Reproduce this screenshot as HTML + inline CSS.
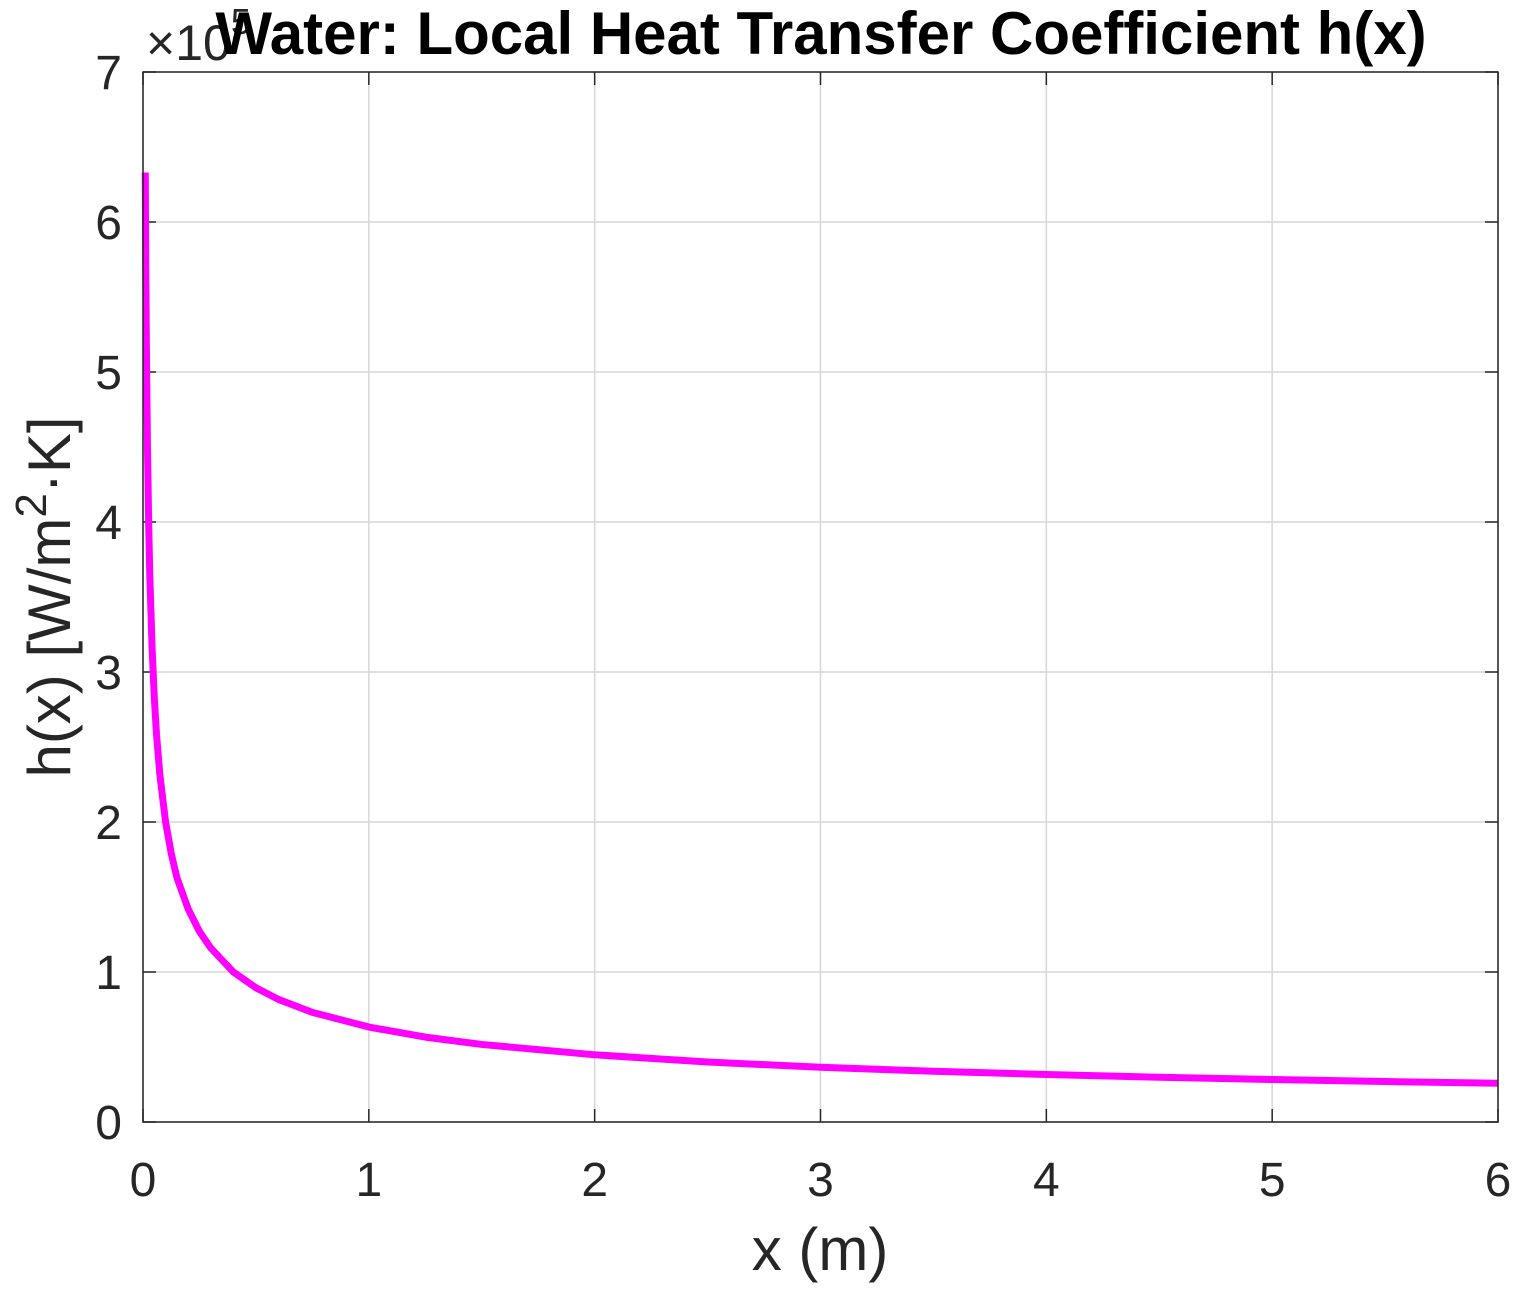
<!DOCTYPE html>
<html><head><meta charset="utf-8"><style>
body{margin:0;background:#fff;}
svg text{font-family:"Liberation Sans",Arial,sans-serif;fill:#262626;}
</style></head><body>
<svg id="chart" width="1514" height="1288" xmlns="http://www.w3.org/2000/svg">
<rect width="1514" height="1288" fill="#fff"/>
<g id="grid"></g>
<g id="ticks"></g>
<polyline id="curve" fill="none" stroke="#ff00ff" stroke-width="7" stroke-linejoin="round"/>
<rect x="143" y="72" width="1355" height="1050" fill="none" stroke="#262626" stroke-width="1.5"/>
<text x="146" y="60" font-size="50">×10<tspan dy="-26" font-size="36">5</tspan></text>
<text x="821" y="54" font-size="60" font-weight="bold" text-anchor="middle" style="fill:#000">Water: Local Heat Transfer Coefficient h(x)</text>
<text x="820" y="1270" font-size="60" text-anchor="middle">x (m)</text>
<text transform="translate(70,597) rotate(-90)" font-size="60" text-anchor="middle">h(x) [W/m<tspan dy="-24" font-size="44">2</tspan><tspan dy="24">·K]</tspan></text>
</svg>
<script>
const xVals=[0.01,0.012,0.015,0.02,0.025,0.03,0.04,0.05,0.06,0.075,0.1,0.125,0.15,0.2,0.25,0.3,0.4,0.5,0.6,0.75,1,1.25,1.5,2,2.5,3,3.5,4,4.5,5,5.5,6];
const hVals=[6.33,5.78,5.17,4.48,4.00,3.65,3.17,2.83,2.58,2.31,2.00,1.79,1.63,1.42,1.27,1.16,1.00,0.895,0.817,0.731,0.633,0.566,0.517,0.448,0.400,0.365,0.338,0.317,0.298,0.283,0.270,0.258];
const xTicks=[0,1,2,3,4,5,6];
const yTicks=[0,1,2,3,4,5,6,7];
const L=143,R=1498,T=72,B=1122;
const sx=v=>L+(v-0)/(6-0)*(R-L);
const sy=v=>B-(v-0)/(7-0)*(B-T);
const NS="http://www.w3.org/2000/svg";
const grid=document.getElementById('grid'),ticks=document.getElementById('ticks');
function mk(tag,attrs,parent){const e=document.createElementNS(NS,tag);for(const k in attrs)e.setAttribute(k,attrs[k]);parent.appendChild(e);return e;}
xTicks.forEach(t=>{const x=sx(t);
 const g=mk('line',{x1:x,x2:x,y1:T,y2:B,stroke:'#d6d6d6','stroke-width':1.5},grid);
 
 
 mk('line',{x1:x,x2:x,y1:B,y2:B-13,stroke:'#262626','stroke-width':1.5},ticks);
 mk('line',{x1:x,x2:x,y1:T,y2:T+13,stroke:'#262626','stroke-width':1.5},ticks);
 const tx=mk('text',{x:x,y:1196,'font-size':48,'text-anchor':'middle'},ticks);tx.textContent=t;
 
 
});
yTicks.forEach(t=>{const y=sy(t);
 const g=mk('line',{x1:L,x2:R,y1:y,y2:y,stroke:'#d6d6d6','stroke-width':1.5},grid);
 
 
 mk('line',{x1:L,x2:L+13,y1:y,y2:y,stroke:'#262626','stroke-width':1.5},ticks);
 mk('line',{x1:R,x2:R-13,y1:y,y2:y,stroke:'#262626','stroke-width':1.5},ticks);
 const tx=mk('text',{x:122,y:y+17,'font-size':48,'text-anchor':'end'},ticks);tx.textContent=t;
 
 
});
document.getElementById('curve').setAttribute('points',xVals.map((x,i)=>sx(x)+','+sy(hVals[i])).join(' '));
</script>
</body></html>
